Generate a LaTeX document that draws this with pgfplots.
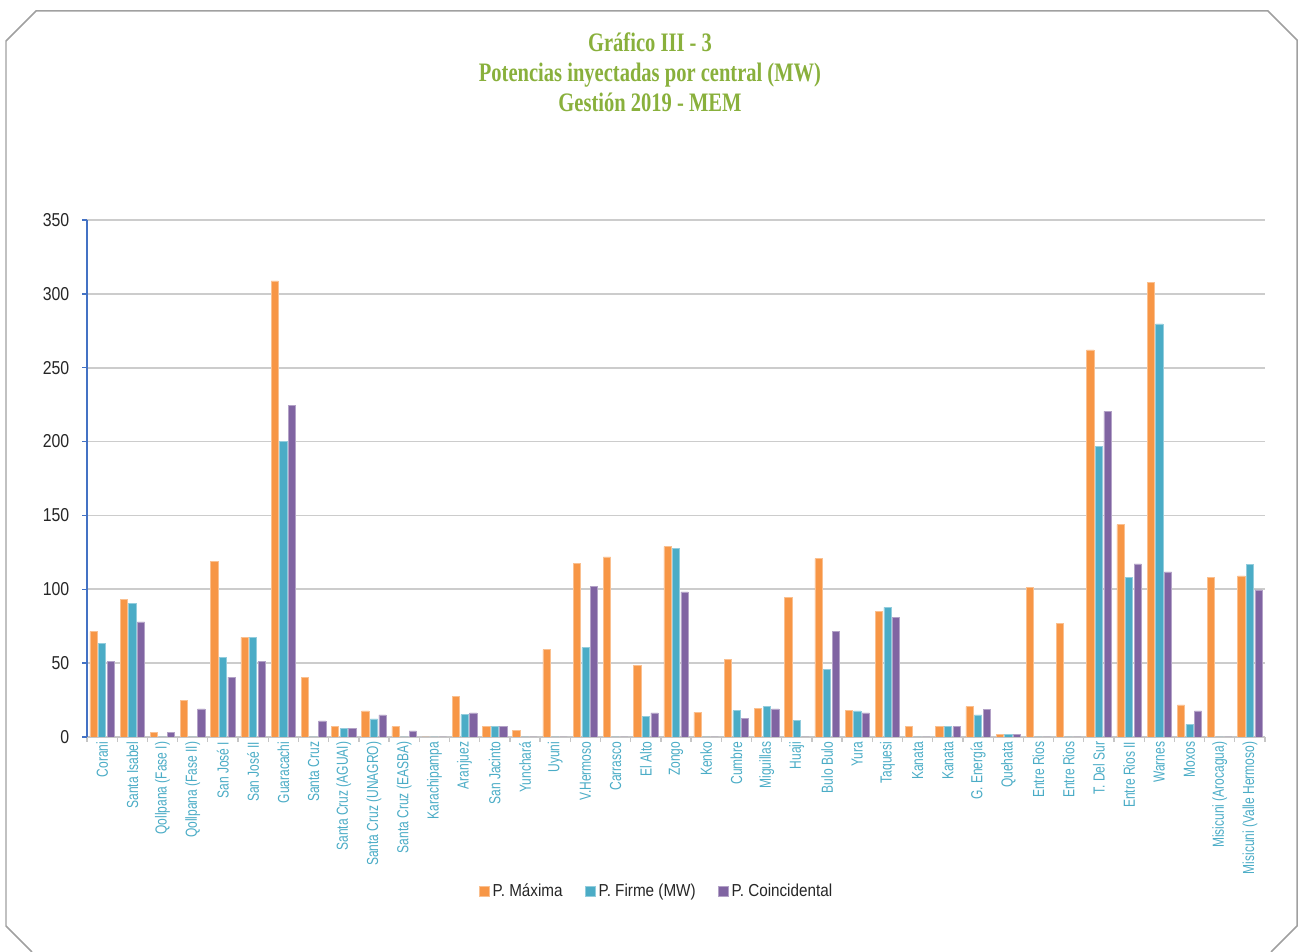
\documentclass[border=0pt]{standalone}
\usepackage{fontspec}
\setmainfont{Liberation Sans}
\newfontfamily\ticknarrow[FakeStretch=0.85]{Liberation Sans}
\newfontfamily\legnarrow[FakeStretch=0.88]{Liberation Sans}
\newfontfamily\labnarrow[FakeStretch=0.75]{Liberation Sans}
\newfontfamily\titlefont[FakeStretch=0.77]{Liberation Serif}
\usepackage{pgfplots}
\usepackage{pgfplotstable}
\pgfplotsset{compat=1.18}

\definecolor{corange}{RGB}{247,150,70}
\definecolor{cteal}{RGB}{75,172,198}
\definecolor{cpurple}{RGB}{128,100,162}
\definecolor{titlegreen}{RGB}{137,176,60}
\definecolor{axisblue}{RGB}{68,114,196}
\definecolor{framegray}{RGB}{160,160,160}

% potencias por central (MW): maxima, firme, coincidental
\pgfplotstableread{
x  pmax   pfirme  pcoinc
0  71.3   63.3    51.0
1  93.0   90.2    78.0
2  3.1    0       3.0
3  24.7   0       19.0
4  118.7  53.9    40.6
5  67.4   67.4    51.0
6  308.7  200.1   224.3
7  40.4   0       10.9
8  7.0    5.6     5.6
9  17.6   12.3    15.0
10 7.0    0       4.1
11 0      0       0
12 27.5   15.1    16.4
13 7.2    7.0     7.0
14 4.5    0       0
15 59.2   0       0
16 117.3  60.6    102.2
17 122.0  0       0
18 48.4   13.7    16.4
19 128.8  127.7   98.2
20 16.7   0       0
21 52.5   17.8    12.4
22 19.4   20.5    19.1
23 94.4   11.3    0
24 120.7  45.7    71.4
25 17.9   17.6    16.4
26 84.8   87.7    81.0
27 7.0    0       0
28 7.0    7.0     7.0
29 20.5   15.0    18.9
30 1.7    1.7     1.7
31 101.3  0       0
32 76.9   0       0
33 262.0  196.5   220.4
34 143.8  107.8   117.2
35 307.9  279.6   111.7
36 21.8   8.5     17.6
37 107.8  0       0
38 109.0  117.0   99.6
}\datatable

\begin{document}
\begin{tikzpicture}
\begin{scope}[x=0.75pt,y=0.75pt]
\useasboundingbox (0,0) rectangle (1298,952);
\draw[framegray, line width=1.1pt] (32,0) -- (6,26) -- (6,911) -- (36,941) -- (1268,941)
  -- (1297,912) -- (1297,26) -- (1271,0);
\node[align=center, text=titlegreen, font=\titlefont\bfseries\fontsize{20}{22.5}\selectfont]
  at (650,880) {Gráfico III - 3\\Potencias inyectadas por central (MW)\\Gestión 2019 - MEM};
\end{scope}

\begin{axis}[
  at={(65.25pt,161.25pt)}, anchor=south west,
  scale only axis, width=883.5pt, height=387.75pt,
  xmin=-0.5, xmax=38.5, ymin=0, ymax=350,
  ybar,
  axis x line*=bottom, axis y line*=left,
  x axis line style={color=gray!45, line width=1.5pt},
  y axis line style={color=axisblue, line width=1.1pt},
  tick align=outside, major tick length=3.75pt,
  xtick={-0.5,0.5,...,38.5}, xticklabels={},
  xtick style={color=gray!45, line width=1pt},
  ytick={0,50,...,350},
  ytick style={color=axisblue, line width=1pt},
  yticklabel style={font=\ticknarrow\fontsize{14}{16}\selectfont, text=black!85, xshift=-6pt},
  /pgf/number format/assume math mode=true,
  extra x ticks={0,1,...,38},
  extra x tick labels={Corani, Santa Isabel, Qollpana (Fase I), Qollpana (Fase II),
    San José I, San José II, Guaracachi, Santa Cruz, Santa Cruz (AGUAI),
    Santa Cruz (UNAGRO), Santa Cruz (EASBA), Karachipampa, Aranjuez, San Jacinto,
    Yunchará, Uyuni, V.Hermoso, Carrasco, El Alto, Zongo, Kenko, Cumbre, Miguillas,
    Huaji, Bulo Bulo, Yura, Taquesi, Kanata, Kanata, G. Energía, Quehata,
    Entre Rios, Entre Rios, T. Del Sur, Entre Rios II, Warnes, Moxos,
    Misicuni (Arocagua), Misicuni (Valle Hermoso)},
  extra x tick style={major tick length=0pt,
    tick label style={rotate=90, anchor=east, text=cteal,
      font=\labnarrow\fontsize{12}{14}\selectfont}},
  ymajorgrids,
  major grid style={color=gray!40, line width=1.2pt},
  legend style={at={(0.484,-0.298)}, anchor=center, draw=none, fill=none,
    legend columns=-1, font=\legnarrow\fontsize{13}{15}\selectfont, text=black!85,
    /tikz/every even column/.append style={column sep=15pt}},
  legend image code/.code={\fill[#1] (0pt,-3.75pt) rectangle (7.5pt,3.75pt);},
]
\addplot[fill=corange, draw=corange!60!white, line width=0.4pt, bar width=0.24, bar shift=-0.285]
  table[x=x, y=pmax]{\datatable};
\addlegendentry{P. Máxima}
\addplot[fill=cteal, draw=cteal!60!white, line width=0.4pt, bar width=0.24, bar shift=0]
  table[x=x, y=pfirme]{\datatable};
\addlegendentry{P. Firme (MW)}
\addplot[fill=cpurple, draw=cpurple!60!white, line width=0.4pt, bar width=0.24, bar shift=0.285]
  table[x=x, y=pcoinc]{\datatable};
\addlegendentry{P. Coincidental}
\end{axis}
\end{tikzpicture}
\end{document}
